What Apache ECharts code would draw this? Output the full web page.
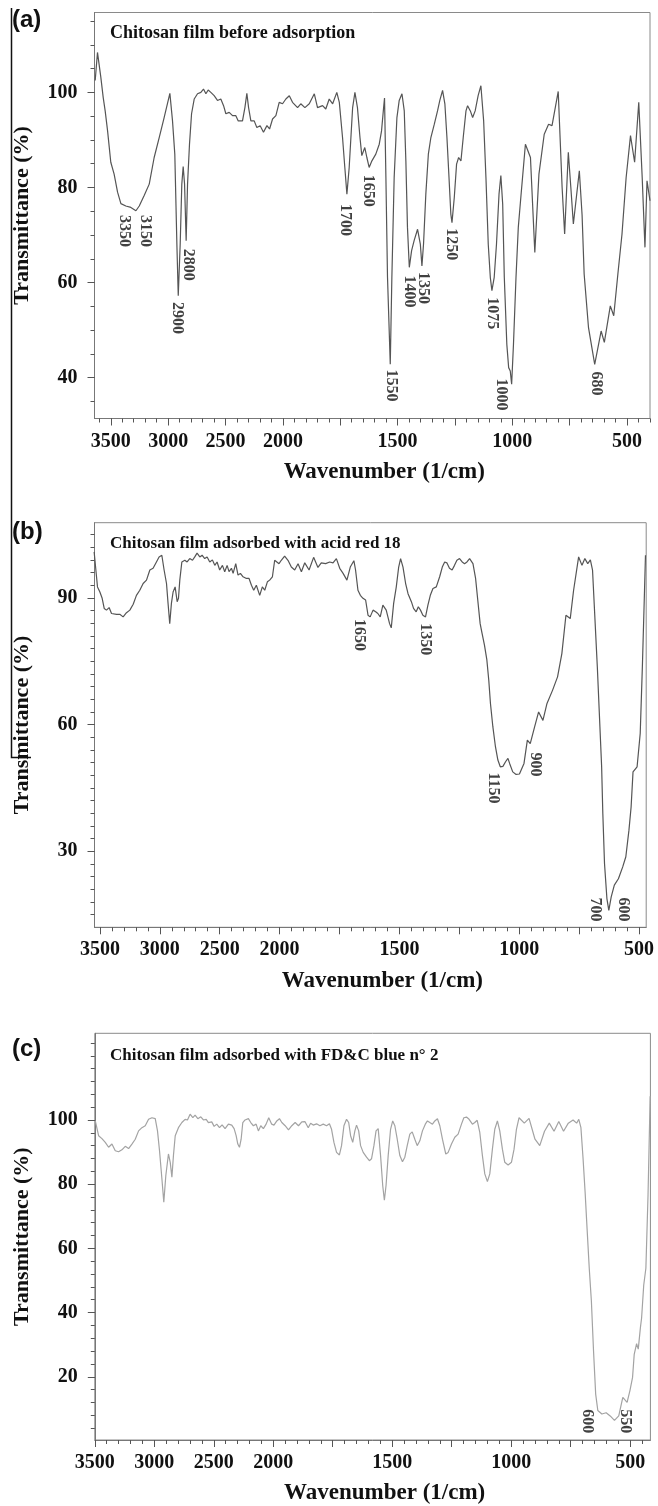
<!DOCTYPE html>
<html>
<head>
<meta charset="utf-8">
<script src="https://cdn.jsdelivr.net/npm/echarts@6/dist/echarts.min.js"></script>
<style>
html,body{margin:0;padding:0;background:#fff;}
#chart{width:658px;height:1506px;}
</style>
</head>
<body>
<div id="chart"></div>
<script>
//(a) 吸附前
let waveA = [3636,3616,3587,3566,3549,3528,3500,3471,3441,3412,
    3369,3325,3281,3252,3209,3165,3122,3078,3035,2985,
    2962,2942,2924,2912,2895,2881,2869,2857,2843,2831,
    2814,2796,2773,2744,2715,2692,2671,2651,2628,2599,
    2570,2541,2517,2497,2468,2439,2410,2389,2352,2331,
    2314,2299,2279,2250,2227,2198,2169,2139,2116,2090,
    2061,2032,2003,1987,1972,1958,1936,1922,1904,1885,
    1863,1849,1827,1813,1798,1783,1765,1754,1740,1730,
    1721,1711,1696,1686,1675,1664,1656,1643,1634,1624,
    1612,1595,1580,1570,1561,1557,1551,1544,1532,1525,
    1515,1503,1493,1481,1471,1464,1457,1449,1439,1428,
    1413,1401,1394,1387,1377,1366,1355,1340,1326,1316,
    1304,1294,1285,1276,1268,1263,1253,1243,1234,1224,
    1214,1202,1195,1183,1173,1162,1149,1137,1125,1115,
    1105,1096,1089,1079,1069,1058,1050,1042,1035,1024,
    1016,1009,1003,995,984,974,963,943,921,902,
    884,861,842,827,800,783,772,756,745,734,
    708,696,687,668,641,613,599,573,558,540,
    522,504,485,467,449,434,422,413,400];
let transA = [102.5,108.4,103.2,98.9,96.1,91.9,85.3,82.8,79.0,76.6,
    76.1,75.8,75.1,76.1,78.3,80.7,86.3,90.5,94.7,99.8,
    94.0,87.0,68.1,57.2,68.1,80.7,84.4,80.7,68.8,80.7,
    89.1,95.5,98.6,99.7,100.0,100.7,99.7,100.5,100.0,99.3,
    98.3,98.6,97.2,95.5,95.8,95.1,95.1,94.0,94.0,96.8,
    99.8,96.8,94.0,94.0,92.6,93.0,91.6,93.0,92.3,94.4,
    95.1,97.9,97.6,98.6,99.3,97.9,96.8,97.6,96.8,97.6,
    99.7,96.8,97.2,96.5,98.6,97.6,100.0,97.9,90.5,84.2,
    78.6,84.2,96.8,100.0,96.8,90.5,86.7,88.4,86.3,84.2,
    85.6,87.0,89.1,91.9,96.8,98.8,82.1,61.1,42.8,61.1,
    82.1,94.7,98.3,99.7,96.1,85.6,71.6,63.2,66.7,68.8,
    71.2,68.1,63.5,68.1,78.6,87.0,90.5,93.3,96.1,98.3,
    100.4,97.6,90.5,82.1,74.4,72.6,77.9,84.9,86.3,85.6,
    90.5,96.1,97.2,96.1,94.7,96.1,99.3,101.4,94.0,82.1,
    68.1,61.1,58.3,61.1,68.1,78.6,82.5,76.5,61.1,47.0,
    42.1,41.4,38.6,47.0,61.1,71.6,77.9,89.1,86.3,66.3,
    82.8,91.2,93.3,93.0,100.2,80.0,70.2,87.4,80.0,72.3,
    83.5,74.2,61.8,50.5,42.8,49.8,47.4,55.1,53.0,61.8,
    70.2,82.1,90.9,85.3,97.9,82.1,67.4,81.4,77.2];
let peaksA = [[3381,74.3,'3350'],[3199,74.3,'3150'],[2918,56.0,'2900'],[2825,67.2,'2800'],
    [1727,76.6,'1700'],[1628,82.8,'1650'],[1529,41.8,'1550'],[1451,61.6,'1400'],
    [1387,62.3,'1350'],[1265,71.5,'1250'],[1088,57.0,'1075'],[1047,39.9,'1000'],[636,41.4,'680']];

//(b) 酸性红18
let waveB = [3548,3536,3528,3520,3500,3481,3464,3445,3423,3403,
    3361,3334,3306,3278,3250,3222,3195,3167,3139,3111,
    3083,3056,3028,3006,2983,2964,2944,2931,2917,2903,
    2889,2872,2855,2844,2833,2816,2791,2772,2750,2727,
    2708,2689,2666,2647,2625,2605,2583,2561,2541,2522,
    2500,2477,2458,2438,2422,2402,2388,2366,2347,2327,
    2305,2277,2255,2235,2216,2194,2166,2144,2124,2102,
    2083,2060,2041,2027,2005,1993,1979,1965,1951,1937,
    1923,1909,1895,1877,1858,1840,1826,1808,1791,1777,
    1763,1749,1735,1719,1705,1690,1683,1673,1663,1652,
    1641,1631,1622,1610,1599,1590,1580,1569,1562,1555,
    1548,1541,1534,1524,1513,1503,1495,1485,1474,1464,
    1450,1441,1430,1421,1412,1402,1391,1381,1371,1360,
    1346,1332,1321,1311,1302,1291,1280,1270,1260,1249,
    1238,1228,1218,1207,1200,1193,1182,1173,1163,1155,
    1145,1135,1127,1120,1110,1099,1089,1079,1068,1057,
    1047,1040,1027,1013,999,980,966,954,936,919,
    901,884,861,840,822,805,787,773,752,738,
    726,714,703,694,674,656,651,644,634,626,
    616,603,586,568,555,542,533,525,508,495,
    486,477,473];
let transB = [100.9,97.3,97.0,92.6,91.4,89.9,87.5,87.1,87.7,86.3,
    86.1,86.1,85.5,86.5,87.1,88.5,90.6,91.8,93.4,94.2,
    96.6,97.0,98.5,99.7,100.1,96.6,93.4,88.7,83.9,88.7,
    91.4,92.6,89.1,89.9,94.2,98.5,98.9,98.5,99.3,98.9,
    99.7,100.6,99.7,100.1,99.3,99.7,98.5,99.0,97.7,98.5,
    96.6,97.7,96.2,97.7,96.2,97.0,95.8,98.1,95.4,95.8,
    95.0,94.6,94.6,93.0,91.8,93.0,90.6,92.6,91.8,93.8,
    94.2,95.0,98.9,99.3,98.1,98.9,99.9,98.9,97.3,96.6,
    98.1,96.2,98.3,96.6,99.6,97.2,98.3,98.1,98.5,98.3,
    99.3,97.0,95.8,94.2,97.3,98.8,96.6,91.8,90.6,89.9,
    89.5,85.9,85.5,87.1,86.7,86.3,85.5,88.3,88.7,87.1,
    85.5,83.9,82.9,88.7,92.6,97.3,99.3,97.3,93.4,91.0,
    89.1,87.5,86.7,87.9,87.1,85.9,85.5,88.3,90.6,92.2,
    92.6,95.0,97.3,98.5,98.3,97.0,96.6,97.7,98.9,99.3,
    98.5,98.1,98.5,99.3,99.5,98.1,94.6,89.5,83.9,81.6,
    78.8,75.3,70.5,65.0,59.5,54.7,51.6,50.0,50.1,51.2,
    52.0,50.8,48.8,48.2,48.3,50.8,56.3,55.5,59.4,63.0,
    61.0,65.0,68.1,71.3,76.8,85.9,85.1,91.8,99.7,97.7,
    99.3,98.1,99.0,96.6,73.7,50.0,38.9,27.1,18.8,16.0,
    19.2,22.0,23.5,26.3,28.7,35.0,40.5,48.8,50.0,57.9,
    73.7,91.8,100.1];
let peaksB = [[1670,85.1,'1650'],[1391,84.1,'1350'],[1107,48.8,'1150'],[934,53.5,'900'],
    [682,19.2,'700'],[568,19.2,'600']];

//(c) FD&C 蓝2
let waveC = [3496,3468,3440,3412,3384,3356,3328,3300,3272,3244,
    3216,3188,3160,3132,3104,3076,3048,3020,2992,2973,
    2956,2936,2920,2903,2881,2866,2852,2839,2824,2797,
    2768,2741,2721,2699,2676,2657,2634,2609,2587,2564,
    2545,2517,2497,2475,2452,2430,2405,2377,2349,2329,
    2312,2298,2284,2270,2256,2237,2209,2189,2167,2144,
    2125,2105,2083,2060,2038,2013,1997,1985,1974,1964,
    1950,1936,1922,1908,1894,1880,1867,1853,1843,1832,
    1818,1804,1790,1776,1764,1755,1745,1734,1722,1713,
    1703,1692,1683,1675,1666,1657,1650,1641,1633,1622,
    1608,1596,1587,1577,1568,1559,1549,1540,1533,1526,
    1517,1507,1498,1489,1479,1468,1457,1447,1437,1426,
    1416,1405,1395,1384,1373,1361,1352,1342,1331,1321,
    1310,1300,1289,1275,1265,1251,1237,1223,1209,1199,
    1188,1177,1163,1153,1143,1132,1121,1111,1100,1090,
    1079,1069,1058,1048,1037,1027,1013,999,988,978,
    967,945,925,900,880,860,840,820,800,780,
    760,740,725,716,707,698,689,681,672,663,
    654,645,636,619,601,584,566,548,531,513,
    501,490,483,473,466,457,452,443,434,425,
    416];
let transC = [99.7,95.1,94.2,93.0,91.5,92.5,90.4,90.1,90.7,91.8,
    91.1,92.5,94.0,96.6,97.6,98.2,100.2,100.7,100.4,96.6,
    90.4,81.7,74.4,82.7,89.4,86.8,82.2,88.9,95.1,97.6,
    99.2,100.2,100.0,101.8,100.7,101.5,100.4,101.0,100.0,100.2,
    99.2,99.4,98.0,98.7,97.6,98.5,97.3,98.7,98.4,97.3,
    95.1,92.5,91.5,94.0,99.2,100.0,100.4,99.2,98.2,98.7,
    96.6,98.2,97.3,98.7,100.7,98.7,98.4,99.7,100.4,99.2,
    98.2,96.9,98.2,99.2,98.2,99.4,99.5,97.6,99.0,98.4,
    98.8,98.2,98.7,98.2,98.8,97.1,93.0,89.9,89.1,92.0,
    98.2,100.2,99.2,95.1,93.0,96.6,98.4,96.6,92.0,89.9,
    88.4,87.3,87.9,92.0,96.6,97.3,88.9,79.6,75.0,79.6,
    88.9,97.1,99.7,98.2,94.0,88.9,87.0,88.4,92.0,95.6,
    96.3,94.0,92.0,93.5,96.6,98.7,99.7,99.2,98.7,99.7,
    100.4,98.2,94.0,89.4,89.9,92.5,94.6,95.6,98.7,100.7,
    100.9,100.2,98.7,99.2,99.9,96.1,88.9,83.2,80.8,83.2,
    90.9,97.1,99.7,96.6,90.9,86.8,86.0,86.8,90.9,97.1,
    100.7,99.0,100.5,94.0,92.0,96.5,99.0,96.5,99.5,96.5,
    99.0,100.0,99.0,100.2,97.6,88.0,77.0,66.0,53.8,43.5,
    28.0,14.6,9.5,8.4,8.8,7.8,6.4,7.8,13.6,12.0,
    15.7,19.8,27.0,30.3,28.6,35.3,38.3,48.6,53.8,76.5,
    107.4];
let peaksC = [[681,10.0,'600'],[522,10.0,'550']];

let titles = ['Chitosan film before adsorption', 'Chitosan film adsorbed with acid red 18', 'Chitosan film adsorbed with FD&C blue n\u00b0 2'];
let letters = ['(a)', '(b)', '(c)'];

//2000 以上刻度压缩一半
function toU(w) { return w > 2000 ? 2000 + (w - 2000) / 2 : w; }
function toW(u) { return u > 2000 ? Math.round(2000 + (u - 2000) * 2) : Math.round(u); }
function steps(from, to, step) {
    let arr = [];
    for (let v = from; v <= to + 1e-9; v += step) arr.push(+v.toFixed(3));
    return arr;
}

let serif = 'Liberation Serif';
let panels = [
    {wave: waveA, trans: transA, peaks: peaksA, left: 94.5, top: 12.5, width: 555.5, height: 406,
        wMin: 400, wMax: 3642, yMin: 31.4, yMax: 116.8, yMajor: [40, 60, 80, 100], yMinor: steps(35, 115, 5),
        color: '#555', titleY: 34, titleSize: 18, letterY: 21},
    {wave: waveB, trans: transB, peaks: peaksB, left: 94.5, top: 522.7, width: 551.7, height: 404.6,
        wMin: 470, wMax: 3545, yMin: 12, yMax: 107.8, yMajor: [30, 60, 90], yMinor: steps(15, 105, 3),
        color: '#555', titleY: 545, titleSize: 17, letterY: 533},
    {wave: waveC, trans: transC, peaks: peaksC, left: 94.8, top: 1033.3, width: 555.6, height: 409.4,
        wMin: 415, wMax: 3500, yMin: 0.3, yMax: 127, yMajor: [20, 40, 60, 80, 100], yMinor: steps(4, 124, 4),
        color: '#a3a3a3', titleY: 1056.7, titleSize: 17, letterY: 1050}
];

let xMajor = [500, 750, 1000, 1250, 1500, 1750, 2000, 2250, 2500, 2750];
let xLabel = [500, 1000, 1500, 2000, 2250, 2500, 2750];
let xMinor = steps(400, 2800, 50);

let tickFont = {fontFamily: serif, fontWeight: 'bold', fontSize: 20, color: '#111'};
let nameFont = {fontFamily: serif, fontWeight: 'bold', fontSize: 23, color: '#111'};

let option = {animation: false, grid: [], xAxis: [], yAxis: [], series: [], graphic: []};

panels.forEach(function (p, i) {
    option.grid.push({left: p.left, top: p.top, width: p.width, height: p.height,
        show: true, borderColor: '#8a8a8a', borderWidth: 1});
    let xMin = toU(p.wMin), xMax = toU(p.wMax);
    option.xAxis.push({
        type: 'value', gridIndex: i, inverse: true, min: xMin, max: xMax,
        axisLine: {show: true, onZero: false, lineStyle: {color: '#777'}},
        axisTick: {show: true, length: 7, customValues: xMajor.filter(v => v >= xMin && v <= xMax), lineStyle: {color: '#555'}},
        axisLabel: {show: true, customValues: xLabel.filter(v => v >= xMin && v <= xMax), formatter: v => String(toW(v)), margin: 13, ...tickFont},
        splitLine: {show: false},
        name: 'Wavenumber (1/cm)', nameLocation: 'middle', nameGap: 42,
        nameTextStyle: {...nameFont, padding: [0, 0, 0, 24]}
    }, {
        type: 'value', gridIndex: i, inverse: true, min: xMin, max: xMax, position: 'bottom',
        axisLine: {show: false}, axisLabel: {show: false}, splitLine: {show: false},
        axisTick: {show: true, length: 4, customValues: xMinor.filter(v => v >= xMin && v <= xMax), lineStyle: {color: '#555'}}
    });
    option.yAxis.push({
        type: 'value', gridIndex: i, min: p.yMin, max: p.yMax,
        axisLine: {show: true, onZero: false, lineStyle: {color: '#777'}},
        axisTick: {show: true, length: 7, customValues: p.yMajor, lineStyle: {color: '#555'}},
        axisLabel: {show: true, customValues: p.yMajor, margin: 17, ...tickFont},
        splitLine: {show: false},
        name: 'Transmittance (%)', nameLocation: 'middle', nameGap: 61, nameRotate: 90,
        nameTextStyle: {...nameFont, fontSize: 22}
    }, {
        type: 'value', gridIndex: i, min: p.yMin, max: p.yMax, position: 'left',
        axisLine: {show: false}, axisLabel: {show: false}, splitLine: {show: false},
        axisTick: {show: true, length: 4, customValues: p.yMinor, lineStyle: {color: '#555'}}
    });
    option.series.push({
        type: 'line', xAxisIndex: 2 * i, yAxisIndex: 2 * i, silent: true,
        symbol: 'none', showSymbol: false, clip: true,
        lineStyle: {width: 1.2, color: p.color},
        data: p.wave.map((w, k) => [toU(w), p.trans[k]])
    }, {
        type: 'scatter', xAxisIndex: 2 * i, yAxisIndex: 2 * i, silent: true,
        symbolSize: 1, itemStyle: {color: 'rgba(0,0,0,0)'},
        label: {show: true, formatter: '{b}', position: 'bottom', distance: 0,
            align: 'left', verticalAlign: 'middle', rotate: -90,
            fontFamily: serif, fontWeight: 'bold', fontSize: 16, color: '#111'},
        data: p.peaks.map(d => ({name: d[2], value: [toU(d[0]), d[1]]}))
    });
    //标题和(a)(b)(c)
    option.graphic.push({
        type: 'text', left: 110, top: p.titleY - p.titleSize / 2 - 1,
        style: {text: titles[i], fontFamily: serif, fontWeight: 'bold', fontSize: p.titleSize, fill: '#111'}
    }, {
        type: 'text', left: 12, top: p.letterY - 13,
        style: {text: letters[i], fontFamily: 'Liberation Sans', fontWeight: 'bold', fontSize: 24, fill: '#111'}
    });
});

//左边那条折线(原图拼接留下的)
option.graphic.push({
    type: 'polyline', shape: {points: [[11.5, 8], [11.5, 757.5], [31, 757.5]]},
    style: {stroke: '#111', lineWidth: 1.5, fill: null}
});

let chart = echarts.init(document.getElementById('chart'));
chart.setOption(option);
</script>
</body>
</html>
